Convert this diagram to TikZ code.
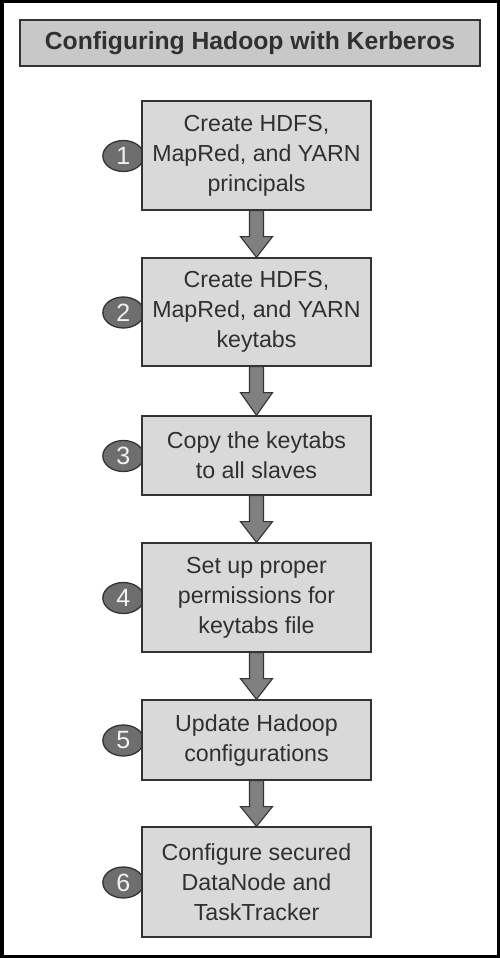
\documentclass[tikz,border=0pt]{standalone}
\usepackage{fontspec}
\setmainfont{Liberation Sans}
\usetikzlibrary{shapes.geometric,calc}
\definecolor{txt}{HTML}{303030}
\definecolor{boxfill}{HTML}{D9D9D9}
\definecolor{titlefill}{HTML}{C8C8C8}
\definecolor{arrfill}{HTML}{808080}
\definecolor{numfill}{HTML}{6E6E6E}
\definecolor{numtxt}{HTML}{F2F2F2}
\definecolor{edge}{HTML}{333333}
\pgfdeclarelayer{back}
\pgfsetlayers{back,main}
\tikzset{
  x=1pt,y=1pt,
  stepbox/.style={draw=edge,line width=1.3pt,fill=boxfill,minimum width=229pt,align=center,
    text=txt,font=\fontsize{23.2}{30}\selectfont,inner sep=0pt},
  numbadge/.style={ellipse,draw=edge,line width=1.3pt,fill=numfill,minimum width=41pt,minimum height=31pt,
    inner sep=0pt,text=numtxt,font=\fontsize{25}{25}\selectfont},
  bigarrow/.style={draw=edge,line width=1.1pt,fill=arrfill},
}
\newcommand{\flowarrow}[2]{%
  \draw[bigarrow] ($(#1.south)+(-7,0)$) -- ($(#1.south)+(-7,-26)$) -- ($(#1.south)+(-16,-26)$)
    -- (#2.north) -- ($(#1.south)+(16,-26)$) -- ($(#1.south)+(7,-26)$) -- ($(#1.south)+(7,0)$) -- cycle;}
\begin{document}
\begin{tikzpicture}
\useasboundingbox (0,0) rectangle (500,-958);
\draw[line width=3.5pt] (1.75,-1.75) rectangle (498.25,-956.25);
\node[draw=edge,line width=1.3pt,fill=titlefill,minimum width=460pt,minimum height=46pt,inner sep=0pt,
  text=txt,font=\bfseries\fontsize{24.7}{24.7}\selectfont] (title) at (250,-43) {Configuring Hadoop with Kerberos};
\node[stepbox,minimum height=109pt] (b1) at (256.5,-155.5) {Create HDFS,\\MapRed, and YARN\\principals};
\node[stepbox,minimum height=108pt] (b2) at (256.5,-312) {Create HDFS,\\MapRed, and YARN\\keytabs};
\node[stepbox,minimum height=79pt] (b3) at (256.5,-455.5) {Copy the keytabs\\to all slaves};
\node[stepbox,minimum height=109pt] (b4) at (256.5,-597.5) {Set up proper\\permissions for\\keytabs file};
\node[stepbox,minimum height=80pt] (b5) at (256.5,-740) {Update Hadoop\\configurations};
\node[stepbox,minimum height=110pt] (b6) at (256.5,-882) {Configure secured\\DataNode and\\TaskTracker};
\begin{pgfonlayer}{back}
\foreach \i in {1,...,6} {\node[numbadge] (n\i) at ($(b\i.west)+(-18,-0.5)$) {\i};}
\end{pgfonlayer}
\flowarrow{b1}{b2}
\flowarrow{b2}{b3}
\flowarrow{b3}{b4}
\flowarrow{b4}{b5}
\flowarrow{b5}{b6}
\end{tikzpicture}
\end{document}
